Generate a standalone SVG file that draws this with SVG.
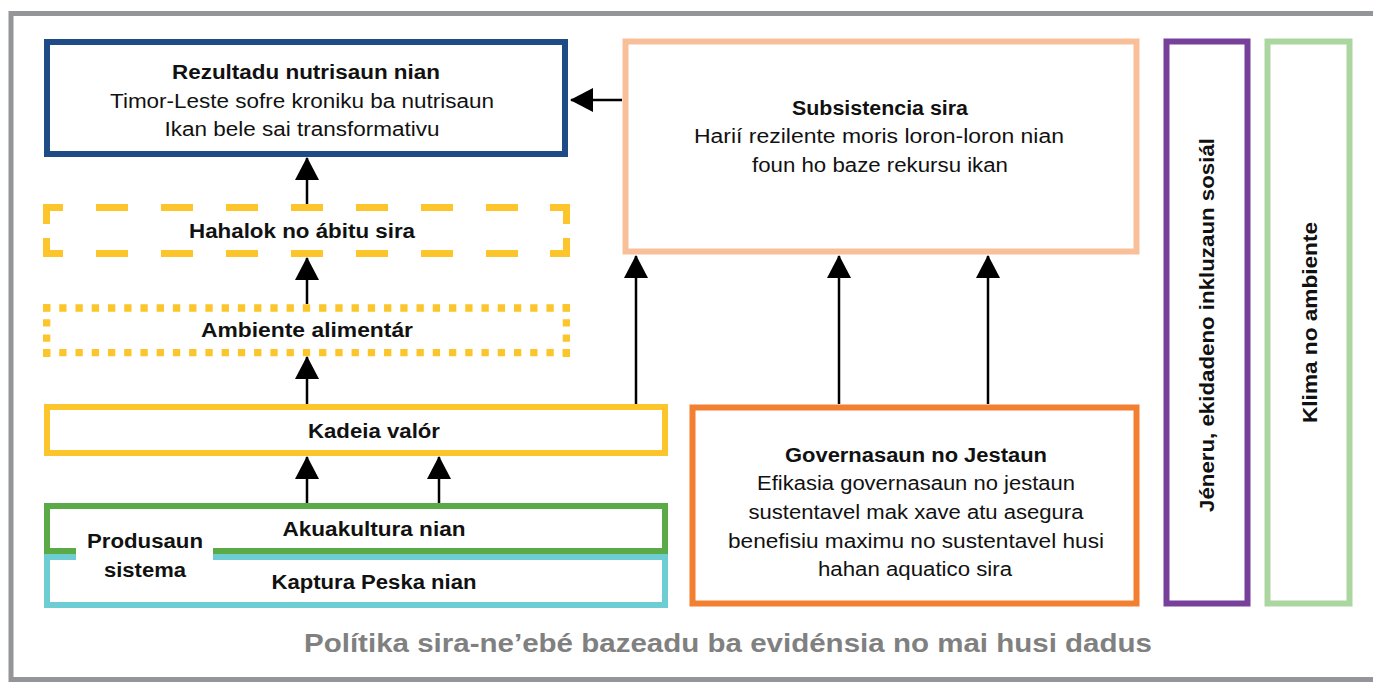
<svg xmlns="http://www.w3.org/2000/svg" width="1373" height="684" viewBox="0 0 1373 684">
<style>
text{font-family:"Liberation Sans",Arial,sans-serif;fill:#111;text-anchor:middle}
.b{font-weight:bold;font-size:20px}
.r{font-size:20px}
.box{fill:#fff;stroke-width:6}
.ln{stroke:#000;stroke-width:2.5;fill:none}
.ds{fill:none;stroke:#fdc52c;stroke-width:7;stroke-linecap:butt;stroke-linejoin:miter}
.dt{fill:none;stroke:#fdc52c;stroke-width:7.3;stroke-linecap:butt}
</style>
<defs>
<marker id="ah" viewBox="0 0 23 24" refX="22" refY="12" markerWidth="23" markerHeight="24" markerUnits="userSpaceOnUse" orient="auto">
<path d="M0,0 L23,12 L0,24 z" fill="#000"/>
</marker>
</defs>
<rect x="0" y="0" width="1373" height="684" fill="#fff"/>
<rect id="frame" x="11" y="13.5" width="1375" height="666" fill="none" stroke="#939598" stroke-width="5"/>

<g id="rezultadu">
<rect class="box" x="47" y="42" width="518" height="112" stroke="#1f4b87"/>
<text class="b" x="306" y="79" textLength="268" lengthAdjust="spacingAndGlyphs">Rezultadu nutrisaun nian</text>
<text class="r" x="302" y="108" textLength="384" lengthAdjust="spacingAndGlyphs">Timor-Leste sofre kroniku ba nutrisaun</text>
<text class="r" x="302" y="136" textLength="275" lengthAdjust="spacingAndGlyphs">Ikan bele sai transformativu</text>
</g>

<g id="hahalok">
<path class="ds" d="M46.5,224 V207.5 H63"/>
<path class="ds" d="M46.5,238 V253.5 H63"/>
<path class="ds" d="M550,207.5 H566.5 V224"/>
<path class="ds" d="M566.5,238 V253.5 H550"/>
<path class="ds" d="M96,207.5 H518 M96,253.5 H518" stroke-dasharray="32 33"/>
<text class="b" x="302" y="238" textLength="226" lengthAdjust="spacingAndGlyphs">Hahalok no ábitu sira</text>
</g>

<g id="ambiente">
<path class="dt" d="M43,308 H570 M43,352.7 H570" stroke-dasharray="7.3 8.94"/>
<path class="dt" d="M46.65,304 V357 M566.35,304 V357" stroke-dasharray="7.3 7.93"/>
<text class="b" x="307" y="337" textLength="212" lengthAdjust="spacingAndGlyphs">Ambiente alimentár</text>
</g>

<g id="kadeia">
<rect class="box" x="47" y="407" width="618" height="46" stroke="#fdc52c"/>
<text class="b" x="374" y="438" textLength="132" lengthAdjust="spacingAndGlyphs">Kadeia valór</text>
</g>

<g id="kaptura">
<rect class="box" x="47" y="557" width="618" height="48" stroke="#6dcdd2"/>
<text class="b" x="374" y="589" textLength="205" lengthAdjust="spacingAndGlyphs">Kaptura Peska nian</text>
</g>

<g id="akuakultura">
<rect class="box" x="47" y="506" width="618" height="45" stroke="#5aab47"/>
<text class="b" x="374" y="536" textLength="183" lengthAdjust="spacingAndGlyphs">Akuakultura nian</text>
</g>

<g id="produsaun">
<rect x="76" y="527" width="137" height="52" fill="#fff"/>
<text class="b" x="145" y="548" textLength="116" lengthAdjust="spacingAndGlyphs">Produsaun</text>
<text class="b" x="145" y="577" textLength="82" lengthAdjust="spacingAndGlyphs">sistema</text>
</g>

<g id="subsistencia">
<rect class="box" x="625.5" y="41.5" width="511" height="210" stroke="#f9bf99" stroke-width="7"/>
<text class="b" x="880" y="115" textLength="176" lengthAdjust="spacingAndGlyphs">Subsistencia sira</text>
<text class="r" x="879" y="143" textLength="370" lengthAdjust="spacingAndGlyphs">Harií rezilente  moris loron-loron nian</text>
<text class="r" x="880" y="172" textLength="256" lengthAdjust="spacingAndGlyphs">foun ho baze rekursu ikan</text>
</g>

<g id="governasaun">
<rect class="box" x="692.5" y="407.5" width="444" height="196" stroke="#f37f31" stroke-width="7"/>
<text class="b" x="916" y="462" textLength="262" lengthAdjust="spacingAndGlyphs">Governasaun no Jestaun</text>
<text class="r" x="916" y="490" textLength="318" lengthAdjust="spacingAndGlyphs">Efikasia governasaun no jestaun</text>
<text class="r" x="916" y="519" textLength="335" lengthAdjust="spacingAndGlyphs">sustentavel mak xave atu asegura</text>
<text class="r" x="916" y="548" textLength="376" lengthAdjust="spacingAndGlyphs">benefisiu maximu no sustentavel husi</text>
<text class="r" x="915" y="576" textLength="194" lengthAdjust="spacingAndGlyphs">hahan aquatico sira</text>
</g>

<g id="jeneru">
<rect class="box" x="1166.5" y="41.5" width="81" height="562" stroke="#77409a" stroke-width="7"/>
<text class="b" transform="translate(1214 325) rotate(-90)" textLength="374" lengthAdjust="spacingAndGlyphs">Jéneru, ekidadeno inkluzaun sosiál</text>
</g>

<g id="klima">
<rect class="box" x="1267.5" y="41.5" width="82" height="562" stroke="#abd69f" stroke-width="7"/>
<text class="b" transform="translate(1317 322.5) rotate(-90)" textLength="201" lengthAdjust="spacingAndGlyphs">Klima no ambiente</text>
</g>

<g id="connectors">
<line class="ln" x1="622" y1="100" x2="571" y2="100" marker-end="url(#ah)"/>
<line class="ln" x1="307" y1="204" x2="307" y2="158" marker-end="url(#ah)"/>
<line class="ln" x1="307" y1="304" x2="307" y2="258" marker-end="url(#ah)"/>
<line class="ln" x1="307" y1="404" x2="307" y2="357" marker-end="url(#ah)"/>
<line class="ln" x1="307" y1="503" x2="307" y2="457" marker-end="url(#ah)"/>
<line class="ln" x1="439" y1="503" x2="439" y2="457" marker-end="url(#ah)"/>
<line class="ln" x1="636" y1="404" x2="636" y2="256" marker-end="url(#ah)"/>
<line class="ln" x1="839" y1="404" x2="839" y2="256" marker-end="url(#ah)"/>
<line class="ln" x1="988" y1="404" x2="988" y2="256" marker-end="url(#ah)"/>
</g>

<text id="politika" x="728" y="652" style="font-weight:bold;font-size:26px;fill:#808080" textLength="848" lengthAdjust="spacingAndGlyphs">Polítika sira-ne’ebé bazeadu ba evidénsia no mai husi dadus</text>
</svg>
